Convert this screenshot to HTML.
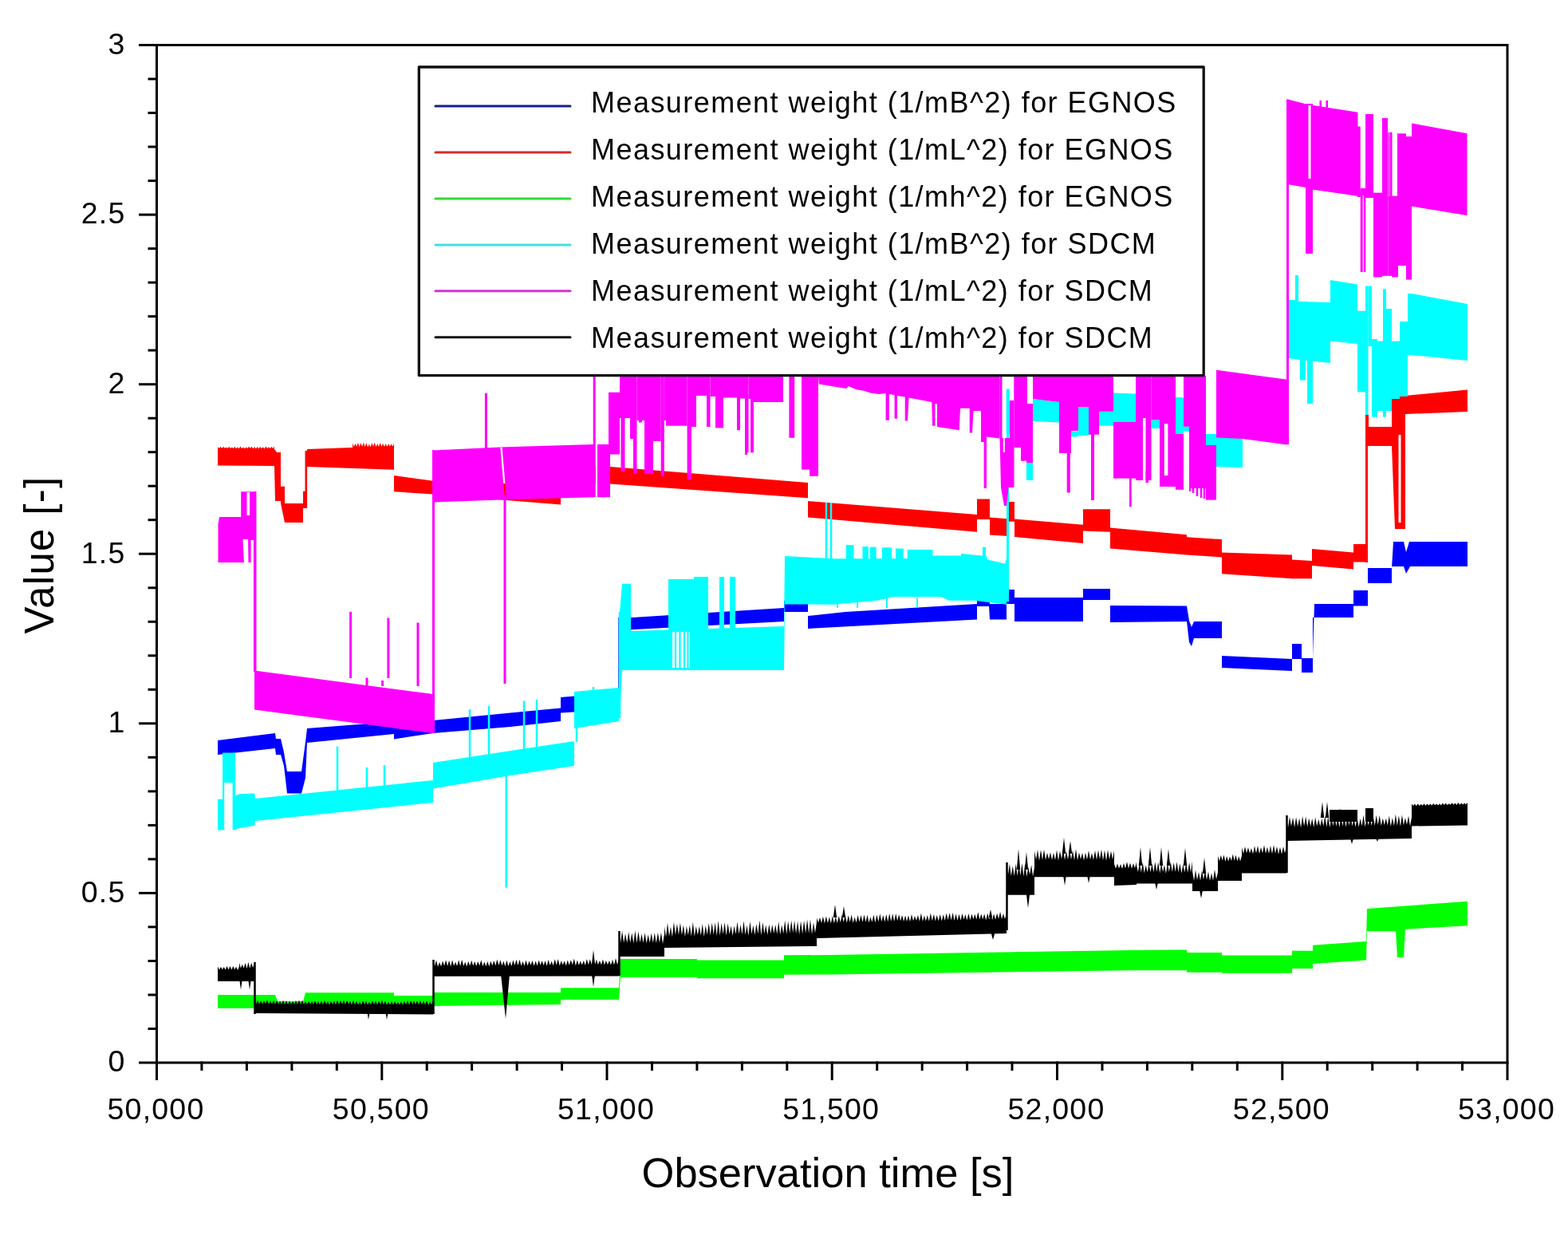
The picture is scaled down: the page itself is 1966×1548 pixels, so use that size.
<!DOCTYPE html>
<html><head><meta charset="utf-8"><title>Measurement weights</title>
<style>
html,body{margin:0;padding:0;background:#fff;}
body{width:1966px;height:1548px;overflow:hidden;}
svg{display:block;}

text{font-family:"Liberation Sans",Arial,sans-serif;fill:#000;}
</style></head><body>
<div id="wrap">
<svg width="1966" height="1548" viewBox="0 0 1966 1548">
<rect x="0" y="0" width="1966" height="1548" fill="#fff"/>
<g id="series">
<polygon fill="#0000ff" points="273,928 345,919 346,926 352,926 356,943 360,967 378,967 383,930 385,913 494,904.5 494,911 543,903 640,893.5 703,887.5 703,874 776,868 776,889 703,893.5 703,904 640,911 543,919 494,926.5 494,920 385,931 383,975 378,994.5 360,994.5 356,960 352,946 346,946 345,938 273,946"/>
<line stroke="#0000ff" stroke-width="2.5" x1="776.5" y1="889" x2="776.5" y2="774"/>
<polygon fill="#0000ff" points="777,775 983,762 983,753 1013,751 1013,772 1060,767 1225,757 1225,748 1240,748 1241,757 1262,757 1262,739 1272,739 1272,749 1358,749 1358,738 1392,738 1392,759 1488,759.5 1491,778 1494,786 1497,779 1532,779 1532,822 1620,826 1620,807 1632,807 1632,825 1646,825 1648,757 1697,757 1697,740 1715,740 1715,712 1745,712 1747,679 1760,679 1763,692 1767,679 1840,679 1840,710 1768,710 1763,719 1760,710 1745,710 1745,731 1715,731 1715,759.5 1697,759.5 1697,774 1646,774 1646,843 1632,843 1632,826 1620,826 1620,841 1532,837 1532,800 1497,800 1494,810 1491,805 1488,779 1392,780 1392,752 1358,752 1358,779 1272,779 1272,757 1262,757 1262,776.5 1241,776.5 1240,760 1225,760 1225,776.5 1013,788 1013,767 983,767 983,779 777,790"/>
<polygon fill="#ff0000" points="273,561.5 344,563 347,567 352,567 352,609.7 357,609.7 357,631 380,631 380,615.8 385,615.8 385,563 441,561 494,559 494,596 543,602.7 703,615 703,583 765,585 1013,605 1013,628 1225,645 1225,625.4 1241,625.4 1241,648.6 1265,650.5 1265,629 1272,629 1272,650.5 1358,657.7 1358,638.3 1392,638.3 1392,661.6 1488,670.3 1488,673.3 1532,676 1532,692.6 1620,695.6 1620,701.5 1645,703 1645,688 1697,692.6 1697,682 1713,682 1713,704.5 1697,704.5 1697,713.4 1645,709 1645,725.3 1620,725.3 1532,719.3 1532,698.5 1488,695.6 1392,687.4 1392,666.7 1358,665.4 1358,681 1272,673 1272,653.8 1265,653.8 1265,672 1241,670.6 1241,651 1225,651 1225,666.7 1013,648.6 1013,624.3 765,606.5 703,605 703,632.4 543,619.5 494,616.3 494,588.8 385,585 385,637 380,637 380,655 357,655 352,631 352,628 345,628 344,584 273,583.5"/>
<line stroke="#ff0000" stroke-width="3" x1="1713.5" y1="705" x2="1713.5" y2="520"/>
<line stroke="#ff0000" stroke-width="2.6" x1="383.8" y1="565" x2="383.8" y2="637"/>
<polygon fill="#ff0000" points="1712,520 1716,520 1716,535 1745,535 1745,496.5 1762,496.5 1762,496 1840,488.5 1840,516 1762,519 1762,663 1749,663 1745,559 1712,559"/>
<line stroke="#fff" stroke-width="3" x1="1755" y1="545" x2="1755" y2="655"/>
<polygon fill="#00ff00" points="273,1247 345,1247 348,1255 380,1255 383,1244.3 494,1244.3 494,1248 543,1248 543,1244 703,1244 703,1238.2 776,1238.2 778,1202 874,1202 874,1203.5 983,1203.5 983,1197.3 1040,1197 1420,1191 1488,1190.6 1488,1194 1532,1194 1532,1197.6 1620,1197.6 1620,1191.7 1646,1191.7 1646,1184.7 1713,1180 1714,1139 1840,1129.7 1840,1160.2 1762,1164.8 1760,1200 1752,1200 1750,1167.2 1714,1167.2 1713,1203.4 1646,1208 1646,1214 1620,1214 1620,1219.8 1532,1219.8 1532,1218.7 1488,1218.7 1488,1216.3 1420,1216.3 1040,1221.5 983,1221.7 983,1226.3 874,1226.3 874,1225 778,1225 776,1253 703,1253 703,1259 543,1261 543,1265 494,1265 494,1262.4 383,1262.4 380,1270 348,1270 345,1263.7 273,1263.7"/>
<polygon fill="#00ffff" points="273,1001.7 279,1001.7 279,943.6 295,943.6 295,997.6 300,995.2 319,994.4 320,1000.9 543,978 543,956 640,941 720,929 720,867 776,862 776,904 720,913 720,960 640,972 543,988.5 543,1006 320,1029 319,1035 300,1038 295,1040 280,1040.4 273,1040.4"/>
<rect fill="#fff" x="281.2" y="981" width="10.4" height="61"/>
<line stroke="#00ffff" stroke-width="2.5" x1="423" y1="1000" x2="423" y2="935.6"/>
<line stroke="#00ffff" stroke-width="2.5" x1="460" y1="1000" x2="460" y2="962"/>
<line stroke="#00ffff" stroke-width="2.5" x1="482" y1="1000" x2="482" y2="959"/>
<line stroke="#00ffff" stroke-width="2.5" x1="589" y1="960" x2="589" y2="889"/>
<line stroke="#00ffff" stroke-width="2.5" x1="613" y1="960" x2="613" y2="885"/>
<line stroke="#00ffff" stroke-width="2.5" x1="657" y1="950" x2="657" y2="878.6"/>
<line stroke="#00ffff" stroke-width="2.5" x1="673" y1="950" x2="673" y2="877"/>
<line stroke="#00ffff" stroke-width="2.5" x1="723" y1="930" x2="723" y2="871"/>
<line stroke="#00ffff" stroke-width="2.5" x1="744" y1="900" x2="744" y2="861"/>
<line stroke="#00ffff" stroke-width="2.5" x1="634.7" y1="970" x2="634.7" y2="1112.6"/>
<line stroke="#00ffff" stroke-width="2.5" x1="777" y1="900" x2="777" y2="767"/>
<polygon fill="#00ffff" points="777,767 780,731.7 791,731.7 791,791 983,785 984,697 1047,700.3 1060,700.3 1169,700 1169,696.6 1205,696.6 1205,694 1221,695.4 1237,697 1238,701.5 1260,706.4 1262,700 1262,757.7 1222,752.8 1190,752.8 1180,748 1120,748 1100,752.8 1045,757.7 984,757.5 983,840 780,840 777,900"/>
<rect fill="#fff" x="843" y="792" width="22" height="45"/>
<line stroke="#00ffff" stroke-width="2.2" x1="847" y1="790" x2="847" y2="838"/>
<line stroke="#00ffff" stroke-width="2.2" x1="852.5" y1="790" x2="852.5" y2="838"/>
<line stroke="#00ffff" stroke-width="2.2" x1="858" y1="790" x2="858" y2="838"/>
<line stroke="#00ffff" stroke-width="2.2" x1="862.5" y1="790" x2="862.5" y2="838"/>
<rect fill="#00ffff" x="838" y="726" width="32" height="64"/>
<rect fill="#00ffff" x="838" y="726" width="4.5" height="112"/>
<rect fill="#00ffff" x="866" y="726" width="4" height="112"/>
<rect fill="#00ffff" x="870" y="723" width="18" height="115"/>
<rect fill="#00ffff" x="902" y="723" width="6" height="115"/>
<rect fill="#00ffff" x="915" y="723" width="7" height="115"/>
<rect fill="#00ffff" x="1060.8" y="683.2" width="9.7" height="18.8"/>
<rect fill="#00ffff" x="1081.5" y="685" width="7.3" height="17"/>
<rect fill="#00ffff" x="1091" y="685.6" width="7.6" height="16.4"/>
<rect fill="#00ffff" x="1106" y="686.3" width="12" height="15.7"/>
<rect fill="#00ffff" x="1123" y="687.5" width="9.8" height="14.5"/>
<rect fill="#00ffff" x="1137.7" y="689" width="31.7" height="13"/>
<rect fill="#00ffff" x="1232" y="685.6" width="4" height="14.4"/>
<line stroke="#00ffff" stroke-width="2.5" x1="1036" y1="700" x2="1036" y2="630"/>
<line stroke="#00ffff" stroke-width="2.5" x1="1042" y1="700" x2="1042" y2="630"/>
<line stroke="#00ffff" stroke-width="2" x1="1050" y1="750" x2="1050" y2="762"/>
<line stroke="#00ffff" stroke-width="2" x1="1075" y1="750" x2="1075" y2="762"/>
<line stroke="#00ffff" stroke-width="2" x1="1112" y1="750" x2="1112" y2="762"/>
<line stroke="#00ffff" stroke-width="2" x1="1150" y1="750" x2="1150" y2="762"/>
<line stroke="#00ffff" stroke-width="3" x1="1263.5" y1="754" x2="1263.5" y2="487.7"/>
<rect fill="#00ffff" x="1261.7" y="487.7" width="4.1" height="55.6"/>
<rect fill="#00ffff" x="1287" y="580" width="8" height="22"/>
<rect fill="#00ffff" x="1343" y="540.5" width="9" height="6.9"/>
<rect fill="#00ffff" x="1352" y="510.3" width="13" height="35.7"/>
<rect fill="#00ffff" x="1378" y="515.8" width="18" height="17.9"/>
<rect fill="#00ffff" x="1443" y="527" width="10" height="10"/>
<rect fill="#00ffff" x="1470" y="498" width="12" height="45"/>
<rect fill="#00ffff" x="1486" y="526" width="4" height="9"/>
<rect fill="#00ffff" x="1515" y="544.7" width="10" height="13.7"/>
<polygon fill="#00ffff" points="1295,500 1328,504 1328,529.5 1295,528"/>
<polygon fill="#00ffff" points="1396,492.5 1424,493.5 1424,532.3 1396,529.5"/>
<polygon fill="#00ffff" points="1525,547 1558,549 1558,586 1525,585"/>
<polygon fill="#00ffff" points="1615,376 1625,376 1630,378 1668,379 1668,455 1630,451 1615,449"/>
<rect fill="#00ffff" x="1624" y="345" width="4" height="35"/>
<rect fill="#00ffff" x="1630" y="378" width="7" height="98.5"/>
<rect fill="#00ffff" x="1639" y="440" width="7" height="66"/>
<polygon fill="#00ffff" points="1668,351 1702,356.4 1702,431 1668,427.6"/>
<rect fill="#00ffff" x="1702" y="389.7" width="10" height="101.7"/>
<rect fill="#00ffff" x="1712" y="358.5" width="3.5" height="161.5"/>
<rect fill="#00ffff" x="1715.5" y="358.5" width="4.5" height="75.5"/>
<rect fill="#00ffff" x="1720" y="425" width="7" height="97.6"/>
<rect fill="#00ffff" x="1727" y="427.6" width="8" height="87.4"/>
<rect fill="#00ffff" x="1734" y="362.5" width="4" height="160.1"/>
<rect fill="#00ffff" x="1738" y="387" width="7" height="128"/>
<rect fill="#00ffff" x="1745" y="427.6" width="10" height="72.4"/>
<rect fill="#00ffff" x="1755" y="403" width="10" height="93.8"/>
<polygon fill="#00ffff" points="1765,368 1770,368 1840,381 1840,452 1770,445 1765,445"/>
<polygon fill="#ff00ff" points="273.5,657 275,648 302.2,648 302.2,616.3 319.5,616.3 319.5,705 273.5,705"/>
<rect fill="#fff" x="309.5" y="617" width="3.5" height="29"/>
<polygon fill="#fff" points="304.5,676 311,676 311.5,706 306,706"/>
<rect fill="#fff" x="314.6" y="677" width="3.4" height="29"/>
<line stroke="#ff00ff" stroke-width="3.5" x1="319.7" y1="616" x2="319.7" y2="842"/>
<polygon fill="#ff00ff" points="319,840.4 543,870 543,919 319,889.5"/>
<line stroke="#ff00ff" stroke-width="3" x1="439.6" y1="850" x2="439.6" y2="766.8"/>
<line stroke="#ff00ff" stroke-width="3" x1="486.9" y1="850" x2="486.9" y2="774.5"/>
<line stroke="#ff00ff" stroke-width="3" x1="524" y1="860" x2="524" y2="780.5"/>
<line stroke="#ff00ff" stroke-width="3" x1="460" y1="860" x2="460" y2="849.5"/>
<line stroke="#ff00ff" stroke-width="3" x1="479.6" y1="860" x2="479.6" y2="853"/>
<line stroke="#ff00ff" stroke-width="3" x1="543.5" y1="919" x2="543.5" y2="564"/>
<polygon fill="#ff00ff" points="543,564.5 627,560.5 744,557 744,623.3 634,626.3 543,629.4"/>
<line stroke="#fff" stroke-width="2.2" x1="628.5" y1="561" x2="632.3" y2="606"/>
<line stroke="#ff0000" stroke-width="2.2" x1="632.3" y1="606" x2="633.8" y2="625"/>
<rect fill="#fff" x="746.7" y="557" width="2.3" height="67"/>
<line stroke="#ff00ff" stroke-width="3" x1="609.4" y1="570" x2="609.4" y2="492.8"/>
<line stroke="#ff00ff" stroke-width="3" x1="633" y1="620" x2="633" y2="857"/>
<line stroke="#ff00ff" stroke-width="3" x1="745.2" y1="623" x2="745.2" y2="471"/>
<polygon fill="#ff00ff" points="749,557 765,557 765,623.3 749,623.3"/>
<polygon fill="#ff00ff" points="763,491.8 777,491.8 777,569.4 763,569.4"/>
<rect fill="#ff00ff" x="777" y="471" width="13" height="53"/>
<rect fill="#ff00ff" x="790" y="471" width="4" height="79"/>
<rect fill="#ff00ff" x="794" y="471" width="4.5" height="123"/>
<rect fill="#ff00ff" x="798.5" y="471" width="2.5" height="56"/>
<rect fill="#ff00ff" x="801" y="471" width="4" height="58.5"/>
<rect fill="#ff00ff" x="805" y="471" width="3" height="56"/>
<rect fill="#ff00ff" x="808" y="471" width="11" height="123"/>
<rect fill="#ff00ff" x="819" y="471" width="9.7" height="82"/>
<rect fill="#ff00ff" x="828.7" y="471" width="4.1" height="126"/>
<rect fill="#ff00ff" x="832.8" y="471" width="2.2" height="56"/>
<rect fill="#ff00ff" x="835" y="471" width="26.6" height="62.7"/>
<rect fill="#ff00ff" x="861.6" y="471" width="5.4" height="130"/>
<rect fill="#ff00ff" x="867" y="471" width="6" height="64"/>
<rect fill="#ff00ff" x="873" y="471" width="13" height="25"/>
<rect fill="#ff00ff" x="886" y="471" width="4.5" height="64"/>
<rect fill="#ff00ff" x="890.5" y="471" width="6.5" height="26"/>
<rect fill="#ff00ff" x="897" y="471" width="10" height="65.4"/>
<rect fill="#ff00ff" x="907" y="471" width="17" height="27.5"/>
<rect fill="#ff00ff" x="924" y="471" width="4" height="68.2"/>
<rect fill="#ff00ff" x="928" y="471" width="6" height="28.5"/>
<rect fill="#ff00ff" x="934" y="471" width="3" height="99"/>
<rect fill="#ff00ff" x="937" y="471" width="1.5" height="96.3"/>
<rect fill="#ff00ff" x="938.5" y="471" width="2.5" height="29"/>
<rect fill="#ff00ff" x="941" y="471" width="4" height="96.3"/>
<rect fill="#ff00ff" x="945" y="471" width="37" height="33"/>
<rect fill="#ff00ff" x="989.4" y="471" width="6.8" height="77.8"/>
<rect fill="#ff00ff" x="1005" y="471" width="10" height="117.6"/>
<rect fill="#ff00ff" x="1015" y="471" width="11" height="125.8"/>
<line stroke="#ff00ff" stroke-width="5" x1="781" y1="524" x2="781" y2="591"/>
<polygon fill="#ff00ff" points="1026,471 1237,471 1237,612 1233.6,612 1233.6,554 1230,554 1230,515 1220.5,515 1219,542.6 1215.7,542.6 1215.7,511.7 1204,511.7 1202.7,539.2 1175,535 1175,506 1172.5,506 1172.5,533.7 1169,533.7 1168.3,504 1139.5,498.6 1138,527.5 1134.7,527.5 1134.7,497.5 1125,496 1125,524.7 1121.6,524.7 1121.6,495 1114.8,494 1114.8,526.8 1110.6,526.8 1110.6,493 1102,494 1091.4,492.5 1083,489.7 1073.6,488.3 1064,484 1061,487 1026.9,481.5"/>
<polygon fill="#ff00ff" points="1237,471 1253.5,471 1253.5,549.5 1237,547.4"/>
<polygon fill="#ff00ff" points="1253.5,471 1256.5,471 1256.5,549 1271.3,549 1271.3,611 1264.6,611 1262,634 1259,634 1255,611 1253.5,549.5"/>
<line stroke="#fff" stroke-width="2" x1="1258.8" y1="471" x2="1258.8" y2="567"/>
<polygon fill="#ff00ff" points="1265.8,502 1271.3,502 1271.3,610.6 1265.8,610.6"/>
<rect fill="#ff00ff" x="1271.3" y="471" width="9.7" height="90"/>
<rect fill="#ff00ff" x="1281" y="471" width="7" height="91.5"/>
<rect fill="#ff00ff" x="1281" y="560" width="3" height="17.6"/>
<rect fill="#ff00ff" x="1280" y="471" width="7" height="106.6"/>
<rect fill="#ff00ff" x="1287" y="506" width="8" height="74"/>
<rect fill="#ff00ff" x="1288" y="507.6" width="2" height="72.4"/>
<polygon fill="#ff00ff" points="1295,471 1328,471 1328,504 1295,500"/>
<rect fill="#ff00ff" x="1328" y="471" width="15" height="97"/>
<rect fill="#ff00ff" x="1337.7" y="560" width="4.1" height="57.5"/>
<rect fill="#ff00ff" x="1343" y="471" width="9" height="69"/>
<rect fill="#ff00ff" x="1352" y="471" width="13" height="39.3"/>
<rect fill="#ff00ff" x="1365" y="471" width="13" height="73.7"/>
<rect fill="#ff00ff" x="1368" y="540" width="4" height="87"/>
<rect fill="#ff00ff" x="1378" y="471" width="18" height="44.8"/>
<rect fill="#ff00ff" x="1396" y="529" width="28" height="70.6"/>
<rect fill="#ff00ff" x="1416" y="590" width="2.7" height="45.3"/>
<rect fill="#ff00ff" x="1424" y="471" width="19.5" height="131"/>
<rect fill="#ff00ff" x="1443.5" y="471" width="10.5" height="55.6"/>
<rect fill="#00ffff" x="1443.5" y="526.6" width="10.5" height="10.4"/>
<rect fill="#ff00ff" x="1454" y="471" width="20" height="139"/>
<rect fill="#fff" x="1433" y="524" width="3.5" height="79"/>
<rect fill="#fff" x="1459.8" y="531" width="4.6" height="65"/>
<rect fill="#ff00ff" x="1436.5" y="590" width="3.5" height="15"/>
<rect fill="#00ffff" x="1474" y="498.7" width="10" height="45.3"/>
<rect fill="#ff00ff" x="1474" y="544" width="10" height="69.8"/>
<rect fill="#ff00ff" x="1484" y="471" width="9" height="63.8"/>
<rect fill="#00ffff" x="1484" y="534.8" width="7" height="5.8"/>
<rect fill="#ff00ff" x="1491" y="534.8" width="2" height="81.2"/>
<rect fill="#ff00ff" x="1493" y="471" width="19" height="141"/>
<line stroke="#ff00ff" stroke-width="2.5" x1="1496" y1="600" x2="1496" y2="618"/>
<line stroke="#ff00ff" stroke-width="2.5" x1="1501" y1="600" x2="1501" y2="622"/>
<line stroke="#ff00ff" stroke-width="2.5" x1="1506" y1="600" x2="1506" y2="624"/>
<line stroke="#ff00ff" stroke-width="2.5" x1="1510" y1="600" x2="1510" y2="625"/>
<rect fill="#00ffff" x="1512" y="544" width="13" height="14"/>
<rect fill="#ff00ff" x="1512" y="558" width="13" height="68.6"/>
<polygon fill="#ff00ff" points="1525,463.8 1614,475.7 1614,557.4 1558,550 1525,548.5"/>
<line stroke="#ff00ff" stroke-width="3" x1="1614.5" y1="557" x2="1614.5" y2="124.5"/>
<polygon fill="#ff00ff" points="1614.5,124.5 1637,130.2 1637,235 1614.5,231"/>
<rect fill="#ff00ff" x="1637" y="130" width="9" height="188"/>
<line stroke="#fff" stroke-width="3" x1="1642" y1="132" x2="1642" y2="224"/>
<polygon fill="#ff00ff" points="1645,131.8 1702.5,140.7 1702.5,245.7 1645,237.6"/>
<rect fill="#ff00ff" x="1654.5" y="126" width="2.5" height="9"/>
<rect fill="#ff00ff" x="1662.5" y="126" width="2.5" height="9"/>
<rect fill="#ff00ff" x="1702" y="158.5" width="3.7" height="88.5"/>
<rect fill="#ff00ff" x="1705.7" y="236" width="6.3" height="9"/>
<line stroke="#ff00ff" stroke-width="3" x1="1707.2" y1="236" x2="1707.2" y2="341"/>
<line stroke="#ff00ff" stroke-width="2.5" x1="1711" y1="236" x2="1711" y2="341"/>
<rect fill="#ff00ff" x="1740.5" y="165.7" width="1.5" height="180.1"/>
<line stroke="#ff00ff" stroke-width="3" x1="1744" y1="165.7" x2="1744" y2="246"/>
<rect fill="#ff00ff" x="1740.5" y="246" width="6.5" height="99.8"/>
<rect fill="#ff00ff" x="1712" y="143" width="10" height="105"/>
<rect fill="#ff00ff" x="1722" y="241.6" width="11" height="105.8"/>
<rect fill="#ff00ff" x="1733" y="148" width="7" height="197.8"/>
<rect fill="#ff00ff" x="1745" y="245.7" width="8" height="101.7"/>
<rect fill="#ff00ff" x="1752" y="167.3" width="11" height="165.7"/>
<rect fill="#ff00ff" x="1763" y="171" width="7" height="179.6"/>
<polygon fill="#ff00ff" points="1770,154.4 1839.5,167.3 1839.5,270 1770,258.6"/>
<polygon fill="#000000" points="273,1211.6 274.9,1215.4 276.9,1212.1 278.8,1215.3 280.7,1211.9 282.6,1215.5 284.6,1211.1 286.5,1215.6 288.4,1211.1 290.4,1215.6 292.3,1211.1 294.2,1215.3 296.1,1211.7 298.1,1215.9 300,1211.2 300,1230 273,1230"/>
<polygon fill="#000000" points="300,1206.6 301.9,1213.6 303.8,1208.7 305.7,1213.5 307.6,1207.1 309.5,1214 311.4,1206.1 313.3,1213.8 315.2,1206.8 317.1,1213 319,1206.3 319,1230 300,1230"/>
<polygon fill="#000000" points="319,1253.6 321,1258.8 323,1253.4 325,1258.7 327,1254.4 329,1258.5 331,1254.2 333,1258.2 335,1253.2 337,1258.4 339,1254.5 341,1258.6 343,1253.8 345,1258.7 347,1254.1 349,1258.5 351,1254.8 353,1258.9 355,1253.7 357,1258.8 359,1254.3 361,1259.1 363,1254.7 365,1258.6 367,1255.3 369,1258.4 371,1254.1 373,1259 375,1253.6 377,1258.8 379,1253.4 381,1259 383,1254.9 385,1258.9 387,1255.1 389,1258.7 391,1254.8 393,1259 395,1254.6 397,1258.9 399,1255.1 401,1259.3 403,1254.4 405,1259.1 407,1253.5 409,1259.1 411,1254.8 413,1259.4 415,1255.2 417,1258.8 419,1254.3 421,1259.2 423,1253.5 425,1259 427,1253.8 429,1258.7 431,1253.6 433,1259.3 435,1253.8 437,1258.8 439,1254.4 441,1259.4 443,1253.7 445,1259.1 447,1254.7 449,1259.5 451,1255.3 453,1259.5 455,1254.2 457,1259.1 459,1254.4 461,1259.5 463,1255.7 465,1258.9 467,1254 469,1259 471,1254.2 473,1259.2 475,1254.9 477,1259 479,1253.7 481,1259.2 483,1254.5 485,1259.4 487,1255.8 489,1259.5 491,1254.9 493,1259.4 495,1255.2 497,1258.9 499,1255.7 501,1259.6 503,1255.7 505,1259.6 507,1254.7 509,1259.3 511,1254.1 513,1259.5 515,1254 517,1259 519,1254.3 521,1259.1 523,1254.6 525,1259.1 527,1253.9 529,1259.2 531,1254.2 533,1259.4 535,1254 537,1259.9 539,1255.3 541,1259.2 543,1254.5 543,1271.5 319,1270"/>
<polygon fill="#000000" points="543,1204.1 545,1211.1 547,1203.4 549,1211.7 551,1206.1 553,1211.2 555.1,1204.4 557.1,1210.6 559.1,1203.2 561.1,1211 563.1,1203.7 565.1,1211.6 567.1,1203.3 569.1,1210.5 571.1,1205.8 573.1,1211.1 575.1,1203.2 577.1,1211.1 579.2,1202.8 581.2,1211 583.2,1205.7 585.2,1211.5 587.2,1204.8 589.2,1210.6 591.2,1203.7 593.2,1210.4 595.2,1205 597.2,1210.9 599.2,1205 601.2,1210.6 603.3,1203.2 605.3,1211.2 607.3,1205.6 609.3,1211.2 611.3,1205 613.3,1211.2 615.3,1204.7 617.3,1210.3 619.3,1204 621.3,1210.5 623.3,1202.4 625.4,1210 627.4,1203.2 629.4,1210.3 631.4,1204.4 633.4,1211.2 635.4,1203.6 637.4,1211.1 639.4,1205.3 641.4,1211.1 643.4,1203.3 645.4,1210.1 647.4,1202.8 649.5,1210 651.5,1202.7 653.5,1210.5 655.5,1204.9 657.5,1210.8 659.5,1203.5 661.5,1210.5 663.5,1204.5 665.5,1209.7 667.5,1204 669.5,1210.8 671.6,1204.4 673.6,1210.5 675.6,1203.4 677.6,1209.7 679.6,1204.3 681.6,1209.9 683.6,1204.3 685.6,1210.7 687.6,1203 689.6,1209.9 691.6,1204.7 693.6,1210.3 695.7,1202.2 697.7,1209.5 699.7,1202.1 701.7,1210.5 703.7,1204.2 705.7,1209.5 707.7,1204.2 709.7,1210.5 711.7,1203.6 713.7,1209.7 715.7,1203.2 717.8,1209.3 719.8,1201.5 721.8,1210.4 723.8,1203.5 725.8,1209.8 727.8,1204.4 729.8,1209.6 731.8,1204.1 733.8,1210.1 735.8,1202 737.8,1209.3 739.8,1202.2 741.9,1209.3 743.9,1203.1 745.9,1209.3 747.9,1202.6 749.9,1209.1 751.9,1204.1 753.9,1209.3 755.9,1202.6 757.9,1209.6 759.9,1204 761.9,1209.3 763.9,1204 766,1209.4 768,1202.7 770,1209.4 772,1201.1 774,1209.3 776,1201.6 776,1223.4 543,1223.7"/>
<polygon fill="#000000" points="776,1166 778,1182.5 780.1,1167 782.1,1181.7 784.1,1170.3 786.2,1181.9 788.2,1167.9 790.2,1181.8 792.3,1169.3 794.3,1182.4 796.4,1166.6 798.4,1181.9 800.4,1167.5 802.5,1181.2 804.5,1170.6 806.5,1181.7 808.6,1169.3 810.6,1182.4 812.6,1171.4 814.7,1181.6 816.7,1169.6 818.8,1181.7 820.8,1169 822.8,1182.2 824.9,1168.7 826.9,1181.8 828.9,1168.8 831,1182.9 833,1170.2 833,1199 776,1199"/>
<polygon fill="#000000" points="833,1161.1 835,1174.8 837,1156.8 839,1173.6 841,1161.5 842.9,1174.4 844.9,1155.8 846.9,1172.1 848.9,1157.8 850.9,1171.9 852.9,1156.4 854.9,1171.9 856.9,1159.3 858.9,1173.9 860.9,1160.8 862.8,1172 864.8,1159.5 866.8,1173.4 868.8,1155.4 870.8,1174.1 872.8,1161.1 874.8,1172 876.8,1161 878.8,1172.5 880.8,1157.7 882.7,1174.2 884.7,1160 886.7,1171.6 888.7,1157.1 890.7,1172.6 892.7,1156.4 894.7,1171.6 896.7,1156.2 898.7,1173.1 900.6,1154.1 902.6,1172.6 904.6,1157 906.6,1170.9 908.6,1156.1 910.6,1172.7 912.6,1157.3 914.6,1170.9 916.6,1160.6 918.6,1173 920.5,1160.4 922.5,1170.9 924.5,1155.4 926.5,1170.7 928.5,1159 930.5,1171.3 932.5,1154.3 934.5,1171.7 936.5,1159.8 938.4,1172.8 940.4,1155.1 942.4,1170.7 944.4,1159.7 946.4,1171.9 948.4,1158.1 950.4,1170.4 952.4,1153.5 954.4,1172.2 956.4,1156 958.3,1170.2 960.3,1159.6 962.3,1171.9 964.3,1158.5 966.3,1170.2 968.3,1158.9 970.3,1170 972.3,1158.9 974.3,1171.1 976.2,1155.1 978.2,1171.4 980.2,1159.2 982.2,1170.5 984.2,1153.5 986.2,1171.2 988.2,1154.2 990.2,1169.9 992.2,1153.6 994.2,1169.6 996.1,1153.8 998.1,1170.3 1000.1,1154.5 1002.1,1171.6 1004.1,1154.3 1006.1,1170.8 1008.1,1153.5 1010.1,1170.3 1012.1,1152.3 1014.1,1169.9 1016,1152.2 1018,1171.3 1020,1155.9 1022,1169.6 1024,1155.3 1024,1186 833,1188"/>
<polygon fill="#000000" points="1024,1150.6 1026,1156.5 1028,1150.1 1030,1156.9 1031.9,1148.7 1033.9,1157.5 1035.9,1148.3 1037.9,1156.9 1039.9,1149.3 1041.8,1157.6 1043.8,1147.9 1045.8,1157.3 1047.8,1149.2 1049.8,1156.9 1051.8,1148 1053.8,1156.3 1055.7,1146.5 1057.7,1155.9 1059.7,1146.5 1061.7,1156.8 1063.7,1147.2 1065.7,1155.7 1067.6,1146.4 1069.6,1156.8 1071.6,1149.4 1073.6,1156.4 1075.6,1147 1077.5,1155.6 1079.5,1147 1081.5,1155.9 1083.5,1146.4 1085.5,1155.8 1087.5,1146.7 1089.5,1156.6 1091.4,1149.3 1093.4,1155.8 1095.4,1146.4 1097.4,1156.4 1099.4,1146.6 1101.4,1155.3 1103.3,1145.3 1105.3,1155.3 1107.3,1147.1 1109.3,1155.4 1111.3,1145.9 1113.2,1155.3 1115.2,1145.1 1117.2,1154.8 1119.2,1145.3 1121.2,1155 1123.2,1145.1 1125.2,1154.3 1127.1,1146 1129.1,1154.5 1131.1,1147 1133.1,1154.9 1135.1,1147.6 1137,1155.1 1139,1147.3 1141,1155.3 1143,1146 1145,1154.3 1147,1148.2 1149,1154 1150.9,1147.1 1152.9,1154.7 1154.9,1144.4 1156.9,1154.9 1158.9,1147.6 1160.9,1154.5 1162.8,1146.9 1164.8,1154.7 1166.8,1144.5 1168.8,1154.2 1170.8,1145.9 1172.8,1154.6 1174.7,1146.9 1176.7,1154.5 1178.7,1146 1180.7,1154.5 1182.7,1146.3 1184.7,1154.1 1186.6,1144.5 1188.6,1152.9 1190.6,1144 1192.6,1153.4 1194.6,1143.8 1196.5,1154.1 1198.5,1145.5 1200.5,1153.7 1202.5,1145.7 1204.5,1153.7 1206.5,1145.1 1208.5,1152.5 1210.4,1146.2 1212.4,1153.6 1214.4,1144.9 1216.4,1153.2 1218.4,1145.5 1220.4,1152.3 1222.3,1145.7 1224.3,1152.6 1226.3,1143 1228.3,1152.5 1230.3,1145.5 1232.2,1152.3 1234.2,1145.4 1236.2,1153.5 1238.2,1144.4 1240.2,1152.4 1242.2,1144.3 1244.2,1152.9 1246.1,1145.3 1248.1,1152.7 1250.1,1144.7 1252.1,1151.7 1254.1,1142.7 1256,1151.9 1258,1144.9 1260,1151.9 1262,1144.2 1262,1170 1024,1176"/>
<polygon fill="#000000" points="1262,1081.1 1263.9,1096.5 1265.9,1082.7 1267.8,1098.1 1269.8,1085.4 1271.7,1098.1 1273.7,1082.8 1275.6,1097.7 1277.6,1083.9 1279.5,1097.6 1281.4,1081.7 1283.4,1098.7 1285.3,1082.3 1287.3,1098.9 1289.2,1086.9 1291.2,1096.3 1293.1,1083.9 1295.1,1098.5 1297,1087.1 1297,1121.7 1262,1121.7"/>
<polygon fill="#000000" points="1297,1066.4 1299,1077.4 1301,1065.1 1303,1078.9 1305,1065.1 1307,1078.1 1309,1064.7 1311,1077.9 1313,1069 1315,1077 1317,1068.3 1319,1077.9 1321,1068.7 1323,1078.3 1325,1065.2 1327,1078.8 1329,1066.6 1331,1076.8 1333,1064 1335,1077.9 1337,1066.4 1339,1077.4 1341,1064.7 1343,1077.5 1345,1065.7 1347,1078.6 1349,1064 1351,1078.4 1353,1068.4 1355,1077 1357,1068.9 1359,1078.4 1361,1068.7 1363,1077.4 1365,1066 1367,1077.6 1369,1069.2 1371,1078.1 1373,1065.9 1375,1077.7 1377,1065.4 1379,1076.9 1381,1064.5 1383,1078.6 1385,1065.5 1387,1078.9 1389,1065.3 1391,1077.3 1393,1066.7 1395,1077.2 1397,1066 1397,1099.3 1297,1099.3"/>
<polygon fill="#000000" points="1397,1083 1399,1088.8 1401,1082.6 1403,1088.5 1405,1082.9 1407,1088.9 1409,1081.7 1411,1088.6 1413,1080.2 1415,1088.6 1417,1081.4 1419,1088.7 1421,1082 1423,1088 1425,1080.2 1425,1109 1397,1110"/>
<polygon fill="#000000" points="1425,1084.2 1426.9,1092.9 1428.9,1081.6 1430.8,1093.4 1432.8,1080.7 1434.7,1094.4 1436.7,1084.5 1438.6,1093.2 1440.6,1082.7 1442.5,1093.3 1444.4,1082.1 1446.4,1093.5 1448.3,1079.9 1450.3,1093 1452.2,1080.2 1454.2,1094.8 1456.1,1081.8 1458.1,1093.1 1460,1084.1 1461.9,1095 1463.9,1081.5 1465.8,1092.9 1467.8,1080.1 1469.7,1092.8 1471.7,1080.9 1473.6,1092.8 1475.6,1080.3 1477.5,1093.2 1479.4,1082.2 1481.4,1094.7 1483.3,1083.2 1485.3,1093.6 1487.2,1081.3 1489.2,1093.9 1491.1,1081.1 1493.1,1093.4 1495,1079.3 1495,1107.5 1425,1107.5"/>
<polygon fill="#000000" points="1495,1091.4 1497,1103.9 1499,1090.6 1501,1103 1503,1093.1 1505,1103.7 1507,1091.1 1509,1102.5 1511,1091.2 1513,1102.7 1515,1092.2 1517,1103.9 1519,1094.2 1521,1103.7 1523,1090.1 1525,1102 1527,1093.5 1527,1117 1495,1117"/>
<polygon fill="#000000" points="1527,1073.1 1528.9,1079.2 1530.8,1072.1 1532.6,1078.5 1534.5,1071.4 1536.4,1079.9 1538.2,1072.9 1540.1,1079.8 1542,1073.4 1543.9,1078.9 1545.8,1070.4 1547.6,1078.7 1549.5,1071.8 1551.4,1079.5 1553.2,1073.3 1555.1,1079.6 1557,1072.3 1557,1104 1527,1104"/>
<polygon fill="#000000" points="1557,1062.2 1559,1070 1561,1061.3 1563,1069.3 1565,1062.3 1567,1069.6 1569,1062.9 1571,1070.4 1573,1060.3 1575,1069.4 1577,1060.1 1579,1070.3 1581,1061.9 1583,1069.4 1585,1059.3 1587,1070.1 1589,1061.4 1591,1069.9 1593,1059.9 1595,1070.3 1597,1059 1599,1069.7 1601,1060.9 1603,1070.9 1605,1061.7 1607,1070.8 1609,1061 1611,1069.6 1613,1060 1613,1094.6 1557,1094.6"/>
<polygon fill="#000000" points="1613,1027.4 1615,1037.3 1617,1023.7 1619,1035.6 1621.1,1024.7 1623.1,1037.1 1625.1,1024.2 1627.1,1036 1629.1,1025.5 1631.1,1037.6 1633.1,1023 1635.1,1035.4 1637.2,1023.6 1639.2,1036.3 1641.2,1025.5 1643.2,1035.7 1645.2,1026.1 1647.2,1036.9 1649.2,1024.4 1651.2,1035.6 1653.3,1026.9 1655.3,1035.8 1657.3,1026 1659.3,1035.6 1661.3,1022.6 1663.3,1036.8 1665.3,1023 1667.3,1037.2 1669.4,1024.1 1671.4,1035.3 1673.4,1022.5 1675.4,1035.8 1677.4,1024.9 1679.4,1037 1681.4,1021.9 1683.4,1035.6 1685.5,1022.3 1687.5,1037 1689.5,1021.8 1691.5,1034.7 1693.5,1021.3 1695.5,1035.5 1697.5,1026 1699.6,1036.6 1701.6,1025 1703.6,1036.8 1705.6,1026 1707.6,1035.2 1709.6,1021.8 1711.6,1036.6 1713.6,1024.9 1715.7,1034.4 1717.7,1024.4 1719.7,1035.1 1721.7,1022.7 1723.7,1035 1725.7,1021.5 1727.7,1034.1 1729.7,1022.1 1731.8,1034.9 1733.8,1025.8 1735.8,1034.3 1737.8,1025.8 1739.8,1034.5 1741.8,1022.4 1743.8,1035.9 1745.8,1024.9 1747.9,1034.9 1749.9,1020.5 1751.9,1035 1753.9,1022.3 1755.9,1036 1757.9,1021.2 1759.9,1034.6 1761.9,1025.1 1764,1033.7 1766,1022.4 1768,1035.6 1770,1024.3 1770,1051 1613,1054"/>
<polygon fill="#000000" points="1770,1007.5 1771.9,1010 1773.9,1007.5 1775.8,1010.3 1777.8,1007.5 1779.7,1010.1 1781.7,1008.1 1783.6,1009.8 1785.6,1007.3 1787.5,1010 1789.4,1007.6 1791.4,1009.6 1793.3,1007.6 1795.3,1009.5 1797.2,1007 1799.2,1009.2 1801.1,1007.4 1803.1,1009.5 1805,1007.2 1806.9,1009.4 1808.9,1006.4 1810.8,1009 1812.8,1006.8 1814.7,1009.2 1816.7,1007.2 1818.6,1008.8 1820.6,1006.3 1822.5,1008.7 1824.4,1006.5 1826.4,1008.9 1828.3,1006 1830.3,1008.7 1832.2,1006.5 1834.2,1008.6 1836.1,1006.4 1838.1,1008.4 1840,1005.8 1840,1034.5 1770,1035.5"/>
<line stroke="#000000" stroke-width="2.5" x1="319.5" y1="1206" x2="319.5" y2="1271"/>
<line stroke="#000000" stroke-width="2.5" x1="543.5" y1="1203" x2="543.5" y2="1271"/>
<line stroke="#000000" stroke-width="2.5" x1="776.5" y1="1167" x2="776.5" y2="1223"/>
<line stroke="#000000" stroke-width="2.5" x1="1262.5" y1="1081" x2="1262.5" y2="1166"/>
<line stroke="#000000" stroke-width="2.5" x1="1613.5" y1="1022" x2="1613.5" y2="1094"/>
<polygon fill="#000000" points="299.8,1225 302,1240.5 304.2,1225"/>
<polygon fill="#000000" points="310.8,1225 313,1240.5 315.2,1225"/>
<polygon fill="#000000" points="459.8,1265 462,1278 464.2,1265"/>
<polygon fill="#000000" points="482.8,1265 485,1278 487.2,1265"/>
<polygon fill="#000000" points="741.8,1210 744,1190.7 746.2,1210"/>
<polygon fill="#000000" points="741.8,1220 744,1236.7 746.2,1220"/>
<polygon fill="#000000" points="1044.8,1150 1047,1134 1049.2,1150"/>
<polygon fill="#000000" points="1055.8,1150 1058,1136 1060.2,1150"/>
<polygon fill="#000000" points="1239.8,1150 1242,1140 1244.2,1150"/>
<polygon fill="#000000" points="1242.8,1170 1245,1178 1247.2,1170"/>
<polygon fill="#000000" points="1274.8,1090 1277,1064 1279.2,1090"/>
<polygon fill="#000000" points="1284.8,1090 1287,1068 1289.2,1090"/>
<polygon fill="#000000" points="1286.8,1120 1289,1138 1291.2,1120"/>
<polygon fill="#000000" points="1331.8,1070 1334,1050 1336.2,1070"/>
<polygon fill="#000000" points="1339.8,1070 1342,1054 1344.2,1070"/>
<polygon fill="#000000" points="1332.8,1095 1335,1110 1337.2,1095"/>
<polygon fill="#000000" points="1362.8,1095 1365,1107 1367.2,1095"/>
<polygon fill="#000000" points="1427.8,1085 1430,1062 1432.2,1085"/>
<polygon fill="#000000" points="1439.8,1085 1442,1062 1444.2,1085"/>
<polygon fill="#000000" points="1453.8,1085 1456,1062 1458.2,1085"/>
<polygon fill="#000000" points="1462.8,1085 1465,1064 1467.2,1085"/>
<polygon fill="#000000" points="1483.8,1085 1486,1063 1488.2,1085"/>
<polygon fill="#000000" points="1447.8,1105 1450,1115 1452.2,1105"/>
<polygon fill="#000000" points="1507.8,1095 1510,1075 1512.2,1095"/>
<polygon fill="#000000" points="1503.8,1115 1506,1126 1508.2,1115"/>
<polygon fill="#000000" points="1655.8,1025 1658,1005 1660.2,1025"/>
<polygon fill="#000000" points="1661.8,1025 1664,1005 1666.2,1025"/>
<polygon fill="#000000" points="1677.8,1025 1680,1013 1682.2,1025"/>
<polygon fill="#000000" points="1711.8,1025 1714,1013 1716.2,1025"/>
<polygon fill="#000000" points="1692.8,1050 1695,1058 1697.2,1050"/>
<polygon fill="#000000" points="1724.8,1050 1727,1055 1729.2,1050"/>
<rect fill="#000000" x="1667" y="1015" width="35" height="15"/>
<rect fill="#000000" x="1712" y="1013" width="10" height="17"/>
<polygon fill="#000000" points="628,1221 639,1221 634,1277"/>
<polygon fill="#ff0000" points="442,555.2 443.7,559.9 445.5,556.1 447.2,559.7 448.9,554.9 450.7,560.3 452.4,555 454.1,559.7 455.9,554.6 457.6,560.1 459.3,555.2 461.1,560.5 462.8,556.4 464.5,560.5 466.3,555.1 468,559.7 469.7,554.7 471.5,560 473.2,556 474.9,560 476.7,555 478.4,560 480.1,555.8 481.9,560.2 483.6,556.1 485.3,560.4 487.1,555.9 488.8,559.7 490.5,556.3 492.3,559.9 494,555.7 494,563 442,563"/>
<polygon fill="#ff0000" points="273,559.9 274.8,562.4 276.6,559.7 278.3,562.2 280.1,559.8 281.9,562.1 283.6,560.4 285.4,562.3 287.2,559.8 289,562.2 290.8,560.5 292.5,562.3 294.3,559.7 296.1,562.4 297.9,560.2 299.6,562.5 301.4,559.6 303.2,562.3 304.9,560.4 306.7,562.4 308.5,560.5 310.3,562.1 312.1,559.8 313.8,562.1 315.6,559.7 317.4,562.5 319.1,560.1 320.9,562.5 322.7,559.9 324.5,562.4 326.2,560 328,562.2 329.8,560.3 331.6,562.5 333.4,559.6 335.1,562.3 336.9,560.2 338.7,562.1 340.4,559.9 342.2,562.1 344,559.7 344,564 273,564"/>
</g>
<g id="legend">
<rect x="525.3" y="84" width="983.9" height="386.6" fill="#fff" stroke="#111" stroke-width="3.3" stroke-linejoin="round"/>
<g font-size="36" letter-spacing="1.45">
<line x1="546" y1="133.1" x2="715" y2="133.1" stroke="#1c1c90" stroke-width="3" stroke-linecap="round"/>
<text x="741" y="140.8">Measurement weight (1/mB^2) for EGNOS</text>
<line x1="546" y1="191" x2="715" y2="191" stroke="#d22c2c" stroke-width="3" stroke-linecap="round"/>
<text x="741" y="199.9">Measurement weight (1/mL^2) for EGNOS</text>
<line x1="546" y1="248.9" x2="715" y2="248.9" stroke="#30dc30" stroke-width="3" stroke-linecap="round"/>
<text x="741" y="258.9">Measurement weight (1/mh^2) for EGNOS</text>
<line x1="546" y1="306.9" x2="715" y2="306.9" stroke="#40e0e4" stroke-width="3" stroke-linecap="round"/>
<text x="741" y="317.9">Measurement weight (1/mB^2) for SDCM</text>
<line x1="546" y1="364.8" x2="715" y2="364.8" stroke="#d830d8" stroke-width="3" stroke-linecap="round"/>
<text x="741" y="377">Measurement weight (1/mL^2) for SDCM</text>
<line x1="546" y1="422.7" x2="715" y2="422.7" stroke="#111111" stroke-width="3" stroke-linecap="round"/>
<text x="741" y="436.1">Measurement weight (1/mh^2) for SDCM</text>
</g>
</g>
<g id="axes" stroke="#000" stroke-width="3" stroke-linecap="square">
<rect x="196.5" y="56.5" width="1693.5" height="1275.5" fill="none"/>
<line x1="175.5" y1="1332" x2="196.5" y2="1332"/>
<line x1="187" y1="1289.5" x2="196.5" y2="1289.5"/>
<line x1="187" y1="1247" x2="196.5" y2="1247"/>
<line x1="187" y1="1204.5" x2="196.5" y2="1204.5"/>
<line x1="187" y1="1161.9" x2="196.5" y2="1161.9"/>
<line x1="175.5" y1="1119.4" x2="196.5" y2="1119.4"/>
<line x1="187" y1="1076.9" x2="196.5" y2="1076.9"/>
<line x1="187" y1="1034.4" x2="196.5" y2="1034.4"/>
<line x1="187" y1="991.9" x2="196.5" y2="991.9"/>
<line x1="187" y1="949.3" x2="196.5" y2="949.3"/>
<line x1="175.5" y1="906.8" x2="196.5" y2="906.8"/>
<line x1="187" y1="864.3" x2="196.5" y2="864.3"/>
<line x1="187" y1="821.8" x2="196.5" y2="821.8"/>
<line x1="187" y1="779.3" x2="196.5" y2="779.3"/>
<line x1="187" y1="736.8" x2="196.5" y2="736.8"/>
<line x1="175.5" y1="694.2" x2="196.5" y2="694.2"/>
<line x1="187" y1="651.7" x2="196.5" y2="651.7"/>
<line x1="187" y1="609.2" x2="196.5" y2="609.2"/>
<line x1="187" y1="566.7" x2="196.5" y2="566.7"/>
<line x1="187" y1="524.2" x2="196.5" y2="524.2"/>
<line x1="175.5" y1="481.7" x2="196.5" y2="481.7"/>
<line x1="187" y1="439.1" x2="196.5" y2="439.1"/>
<line x1="187" y1="396.6" x2="196.5" y2="396.6"/>
<line x1="187" y1="354.1" x2="196.5" y2="354.1"/>
<line x1="187" y1="311.6" x2="196.5" y2="311.6"/>
<line x1="175.5" y1="269.1" x2="196.5" y2="269.1"/>
<line x1="187" y1="226.6" x2="196.5" y2="226.6"/>
<line x1="187" y1="184" x2="196.5" y2="184"/>
<line x1="187" y1="141.5" x2="196.5" y2="141.5"/>
<line x1="187" y1="99" x2="196.5" y2="99"/>
<line x1="175.5" y1="56.5" x2="196.5" y2="56.5"/>
<line x1="196.5" y1="1332" x2="196.5" y2="1352.5"/>
<line x1="252.9" y1="1332" x2="252.9" y2="1340.5"/>
<line x1="309.4" y1="1332" x2="309.4" y2="1340.5"/>
<line x1="365.9" y1="1332" x2="365.9" y2="1340.5"/>
<line x1="422.3" y1="1332" x2="422.3" y2="1340.5"/>
<line x1="478.8" y1="1332" x2="478.8" y2="1352.5"/>
<line x1="535.2" y1="1332" x2="535.2" y2="1340.5"/>
<line x1="591.6" y1="1332" x2="591.6" y2="1340.5"/>
<line x1="648.1" y1="1332" x2="648.1" y2="1340.5"/>
<line x1="704.5" y1="1332" x2="704.5" y2="1340.5"/>
<line x1="761" y1="1332" x2="761" y2="1352.5"/>
<line x1="817.5" y1="1332" x2="817.5" y2="1340.5"/>
<line x1="873.9" y1="1332" x2="873.9" y2="1340.5"/>
<line x1="930.4" y1="1332" x2="930.4" y2="1340.5"/>
<line x1="986.8" y1="1332" x2="986.8" y2="1340.5"/>
<line x1="1043.2" y1="1332" x2="1043.2" y2="1352.5"/>
<line x1="1099.7" y1="1332" x2="1099.7" y2="1340.5"/>
<line x1="1156.2" y1="1332" x2="1156.2" y2="1340.5"/>
<line x1="1212.6" y1="1332" x2="1212.6" y2="1340.5"/>
<line x1="1269" y1="1332" x2="1269" y2="1340.5"/>
<line x1="1325.5" y1="1332" x2="1325.5" y2="1352.5"/>
<line x1="1382" y1="1332" x2="1382" y2="1340.5"/>
<line x1="1438.4" y1="1332" x2="1438.4" y2="1340.5"/>
<line x1="1494.8" y1="1332" x2="1494.8" y2="1340.5"/>
<line x1="1551.3" y1="1332" x2="1551.3" y2="1340.5"/>
<line x1="1607.8" y1="1332" x2="1607.8" y2="1352.5"/>
<line x1="1664.2" y1="1332" x2="1664.2" y2="1340.5"/>
<line x1="1720.7" y1="1332" x2="1720.7" y2="1340.5"/>
<line x1="1777.1" y1="1332" x2="1777.1" y2="1340.5"/>
<line x1="1833.5" y1="1332" x2="1833.5" y2="1340.5"/>
<line x1="1890" y1="1332" x2="1890" y2="1352.5"/>
</g>
<g id="ticklabels" font-size="37.5" letter-spacing="1.2">
<text x="157.5" y="1343.2" text-anchor="end">0</text>
<text x="157.5" y="1130.6" text-anchor="end">0.5</text>
<text x="157.5" y="918" text-anchor="end">1</text>
<text x="157.5" y="705.5" text-anchor="end">1.5</text>
<text x="157.5" y="492.9" text-anchor="end">2</text>
<text x="157.5" y="280.3" text-anchor="end">2.5</text>
<text x="157.5" y="67.7" text-anchor="end">3</text>
<text x="195.5" y="1402.8" text-anchor="middle">50,000</text>
<text x="477.8" y="1402.8" text-anchor="middle">50,500</text>
<text x="760" y="1402.8" text-anchor="middle">51,000</text>
<text x="1042.2" y="1402.8" text-anchor="middle">51,500</text>
<text x="1324.5" y="1402.8" text-anchor="middle">52,000</text>
<text x="1606.8" y="1402.8" text-anchor="middle">52,500</text>
<text x="1889" y="1402.8" text-anchor="middle">53,000</text>
</g>
<text x="1038" y="1488" font-size="52.5" text-anchor="middle">Observation time [s]</text>
<text transform="translate(66.7,695.5) rotate(-90)" font-size="51" letter-spacing="1.3" text-anchor="middle">Value [-]</text>
</svg>
</div>
</body></html>
